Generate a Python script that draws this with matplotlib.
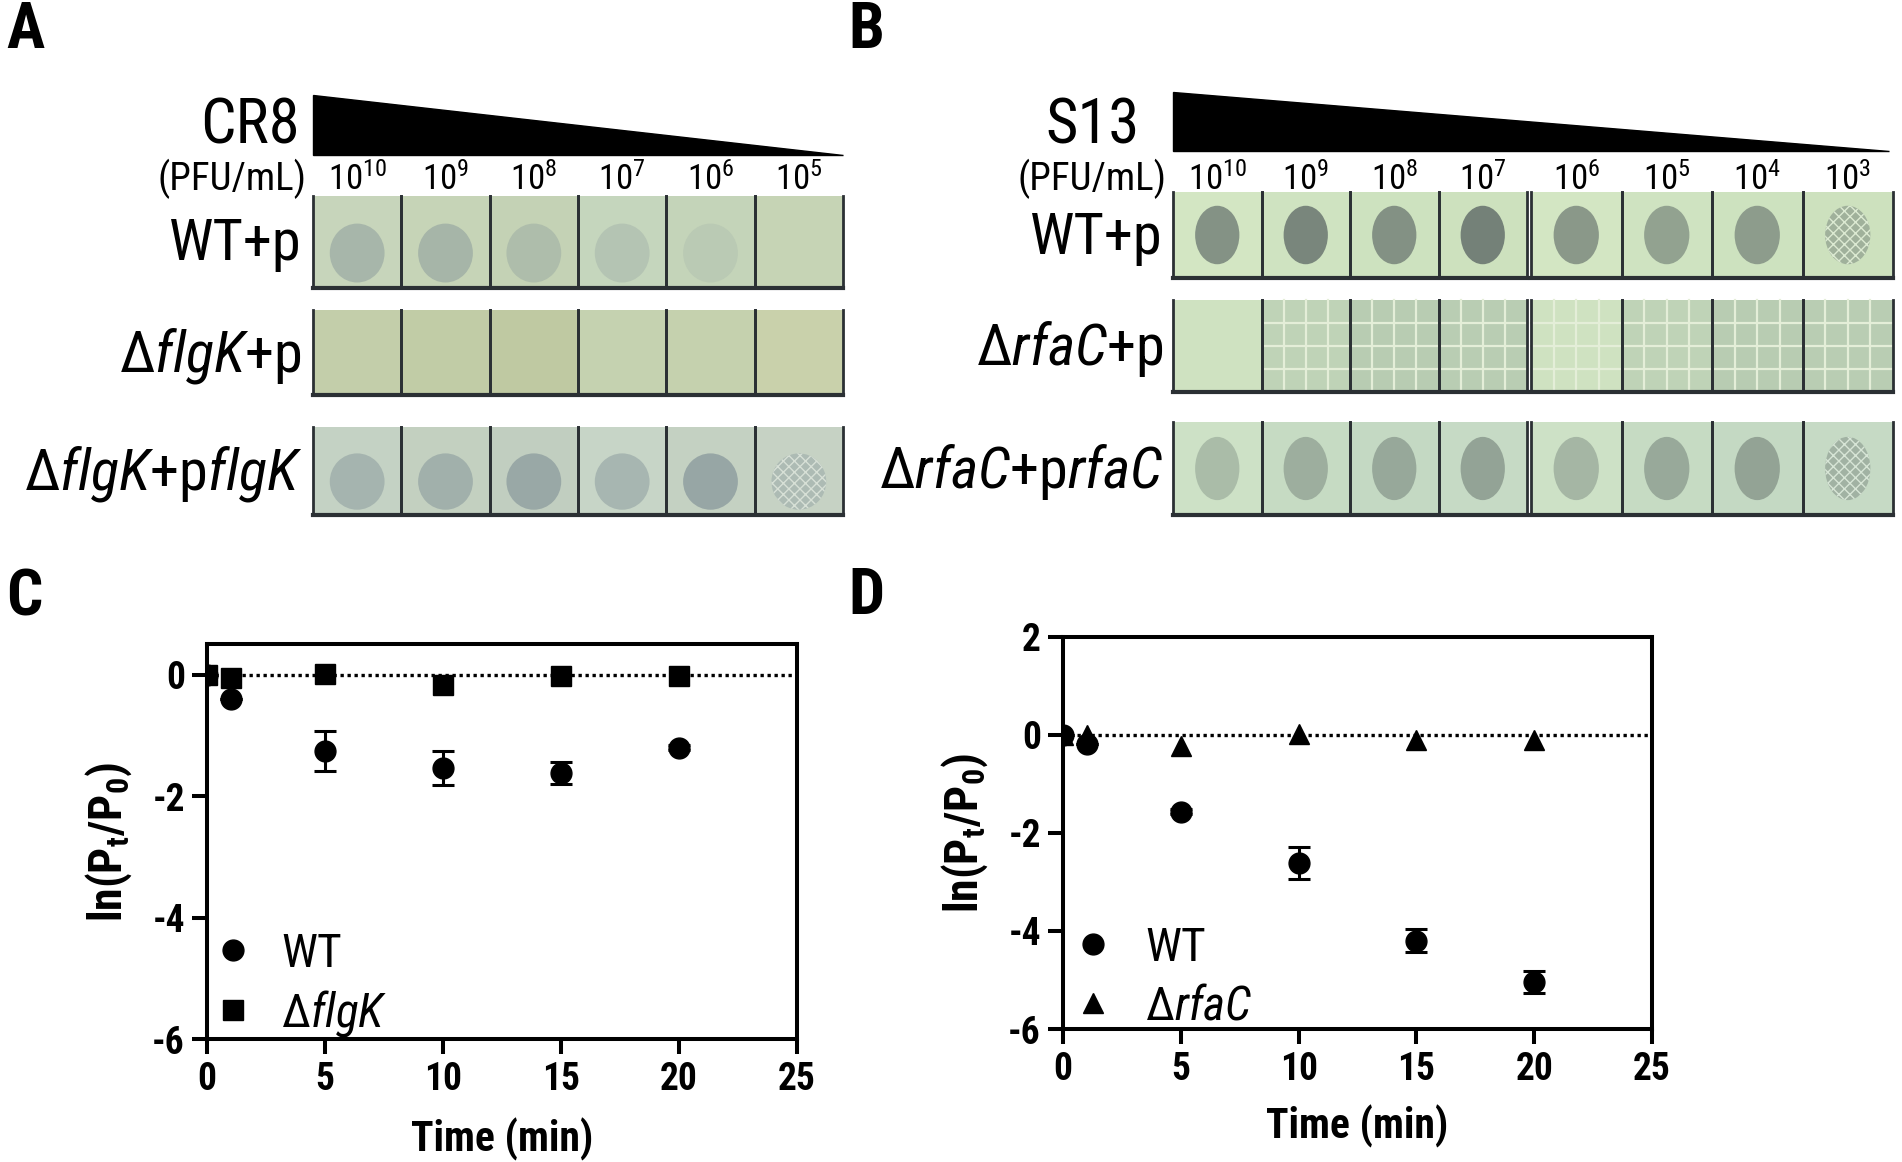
import numpy as np
import matplotlib
matplotlib.use("Agg")
import matplotlib.pyplot as plt
from matplotlib import font_manager
from matplotlib.patches import Rectangle, Ellipse, Polygon
from matplotlib.lines import Line2D

avail = {f.name for f in font_manager.fontManager.ttflist}
FONT = next(f for f in ["Liberation Sans Narrow", "Arial Narrow", "Roboto Condensed",
                        "Archivo Narrow", "Liberation Sans", "DejaVu Sans"] if f in avail)
plt.rcParams["font.family"] = [FONT, "DejaVu Sans"]
plt.rcParams["mathtext.fontset"] = "custom"
plt.rcParams["mathtext.rm"] = FONT
plt.rcParams["mathtext.it"] = FONT + ":italic"
plt.rcParams["mathtext.bf"] = FONT + ":bold"
plt.rcParams["axes.unicode_minus"] = False
plt.rcParams["hatch.linewidth"] = 1.0

# ---------------- data ----------------
time_min = [0, 1, 5, 10, 15, 20]
c_wt = [0.0, -0.39, -1.25, -1.53, -1.61, -1.20]
c_wt_err = [0.0, 0.0, 0.33, 0.28, 0.18, 0.04]
c_flgk = [0.0, -0.05, 0.01, -0.17, -0.01, -0.02]
d_wt = [0.0, -0.20, -1.57, -2.62, -4.20, -5.04]
d_wt_err = [0.0, 0.0, 0.05, 0.33, 0.235, 0.22]
d_rfac = [0.0, -0.01, -0.24, 0.02, -0.11, -0.10]

cr8_exponents = [10, 9, 8, 7, 6, 5]
s13_exponents = [10, 9, 8, 7, 6, 5, 4, 3]
rows_a = [r"WT+p", r"$\Delta\mathit{flgK}$+p", r"$\Delta\mathit{flgK}$+p$\mathit{flgK}$"]
rows_b = [r"WT+p", r"$\Delta\mathit{rfaC}$+p", r"$\Delta\mathit{rfaC}$+p$\mathit{rfaC}$"]
# plaque darkness per spot (0 = no lysis)
plaque_a = [[0.45, 0.45, 0.32, 0.25, 0.15, 0.0],
            [0.0, 0.0, 0.0, 0.0, 0.0, 0.0],
            [0.45, 0.5, 0.6, 0.45, 0.65, 0.35]]
plaque_b = [[0.75, 0.85, 0.75, 0.9, 0.7, 0.6, 0.65, 0.45],
            [0.0, 0.0, 0.0, 0.0, 0.0, 0.0, 0.0, 0.0],
            [0.35, 0.45, 0.5, 0.55, 0.4, 0.5, 0.55, 0.4]]
turbid_a = [False, False, False, False, False, True]
turbid_b = [False, False, False, False, False, False, False, True]

# ---------------- figure ----------------
W, H = 1902, 1162
fig = plt.figure(figsize=(W / 100, H / 100), dpi=100)
bgax = fig.add_axes([0, 0, 1, 1])
bgax.set_xlim(0, W)
bgax.set_ylim(H, 0)
bgax.axis("off")


def mix(c1, c2, t):
    a = np.array(matplotlib.colors.to_rgb(c1))
    b = np.array(matplotlib.colors.to_rgb(c2))
    return tuple(a + (b - a) * t)


def plate_row(ax, edges, y0, y1, bg, dark, levels, turbid, pos, size, grid_cells=()):
    h = y1 - y0
    for i in range(len(edges)):
        xa, xb = edges[i]
        w = xb - xa
        ax.add_patch(Rectangle((xa, y0), w, h, fc=bg[i % len(bg)], ec="none", zorder=1))
        if i in grid_cells:
            for k in range(1, 4):
                ax.plot([xa + w * k / 4] * 2, [y0, y1], color="#e4eed8", lw=1.6, zorder=1.5)
                ax.plot([xa, xb], [y0 + h * k / 4] * 2, color="#e4eed8", lw=1.6, zorder=1.5)
        lv = levels[i]
        if lv > 0:
            c = mix(bg[i % len(bg)], dark, lv)
            e = Ellipse((xa + w * pos[0], y0 + h * pos[1]), w * size[0], h * size[1],
                        fc=c, ec="none", zorder=2)
            ax.add_patch(e)
            if turbid[i]:
                e2 = Ellipse((xa + w * pos[0], y0 + h * pos[1]), w * size[0], h * size[1],
                             fc="none", ec=mix(bg[i % len(bg)], "#ffffff", 0.3), lw=0,
                             hatch="xxx", zorder=2.5)
                ax.add_patch(e2)
        ax.plot([xa, xa], [y0, y1], color="#2b3034", lw=2.0, zorder=3)
        ax.plot([xb, xb], [y0, y1], color="#2b3034", lw=2.0, zorder=3)
    ax.plot([edges[0][0], edges[-1][1]], [y1, y1], color="#2b3034", lw=3, zorder=3)


def col_edges(x0, x1, n):
    xs = np.linspace(x0, x1, n + 1)
    return [(xs[i], xs[i + 1]) for i in range(n)]


LETTER = dict(fontsize=46, fontweight="bold", va="center", ha="left")

# ---- Panel A ----
bgax.text(6, 30, "A", **LETTER)
bgax.add_patch(Polygon([(313, 95), (313, 155), (843, 155)], closed=True, fc="black", ec="black", zorder=2))
bgax.text(300, 127, "CR8", fontsize=45, ha="right", va="center")
bgax.text(306, 179, "(PFU/mL)", fontsize=28, ha="right", va="center")
ea = col_edges(313, 843, len(cr8_exponents))
for (xa, xb), ex in zip(ea, cr8_exponents):
    bgax.text((xa + xb) / 2, 180, r"10$^{%d}$" % ex, fontsize=25, ha="center", va="center")
rows_y_a = [(196, 288), (310, 395), (427, 515)]
bgs_a = [["#c7d5bb", "#c6d4b7", "#c4d2b5", "#c5d6bd", "#c4d4b9", "#c6d4b5"],
         ["#c3ceaa", "#c1cca6", "#bfc9a2", "#c5d2b0", "#c5d1ae", "#c9d1ab"],
         ["#c4d2c4", "#c3d0c0", "#c1cec0", "#c7d5c7", "#c4d1c2", "#c6d2c4"]]
for r in range(3):
    y0, y1 = rows_y_a[r]
    plate_row(bgax, ea, y0, y1, bgs_a[r], "#7f8f95", plaque_a[r],
              turbid_a if r == 2 else [False] * 6, (0.5, 0.62), (0.62, 0.64))
    bgax.text(302, (y0 + y1) / 2 + 3, rows_a[r], fontsize=42, ha="right", va="center")

# ---- Panel B ----
bgax.text(848, 30, "B", **LETTER)
bgax.add_patch(Polygon([(1173, 92), (1173, 151), (1889, 151)], closed=True, fc="black", ec="black", zorder=2))
bgax.text(1140, 127, "S13", fontsize=45, ha="right", va="center")
bgax.text(1166, 179, "(PFU/mL)", fontsize=28, ha="right", va="center")
eb = col_edges(1173, 1527, 4) + col_edges(1531, 1893, 4)
for (xa, xb), ex in zip(eb, s13_exponents):
    bgax.text((xa + xb) / 2, 180, r"10$^{%d}$" % ex, fontsize=25, ha="center", va="center")
rows_y_b = [(192, 278), (300, 392), (422, 515)]
bgs_b = [["#d3e6c3", "#cfe3c1", "#cde2bf", "#cde1be"],
         ["#cfe2c1", "#bfd3b7", "#b8ccb2", "#b9cdb3"],
         ["#cde1c6", "#c6dbc3", "#c4d9c3", "#c6dac5"]]
for r in range(3):
    y0, y1 = rows_y_b[r]
    plate_row(bgax, eb[:4], y0, y1, bgs_b[r], "#6a7670", plaque_b[r][:4],
              turbid_b[:4], (0.5, 0.5), (0.5, 0.68),
              grid_cells=(1, 2, 3) if r == 1 else ())
    plate_row(bgax, eb[4:], y0, y1, bgs_b[r], "#6a7670", plaque_b[r][4:],
              turbid_b[4:], (0.5, 0.5), (0.5, 0.68),
              grid_cells=(0, 1, 2, 3) if r == 1 else ())
    bgax.text(1163, (y0 + y1) / 2 + 3, rows_b[r], fontsize=42, ha="right", va="center")

# ---- Panel C / D ----
bgax.text(6, 598, "C", **LETTER)
bgax.text(848, 596, "D", **LETTER)


def style_axes(ax, yticks, xlabelpad):
    for s in ax.spines.values():
        s.set_linewidth(2.9)
    ax.tick_params(width=2.9, length=11, labelsize=27, pad=5)
    ax.set_xlim(0, 25)
    ax.set_xticks([0, 5, 10, 15, 20, 25])
    ax.set_yticks(yticks)
    for lab in ax.get_xticklabels() + ax.get_yticklabels():
        lab.set_fontweight("bold")
    ax.set_xlabel("Time (min)", fontsize=30, fontweight="bold", labelpad=xlabelpad)
    ax.set_ylabel(r"$\mathbf{ln(P_t/P_0)}$", fontsize=33, labelpad=13)
    ax.axhline(0, color="black", ls=(0, (1, 1.1)), lw=2.4, zorder=1)
    ax.patch.set_alpha(0)


axc = fig.add_axes([207 / W, 1 - 1039 / H, 590 / W, 395 / H])
axc.errorbar(time_min, c_wt, yerr=c_wt_err, fmt="o", color="black", ms=15,
             capsize=8, elinewidth=2.2, capthick=2.2, zorder=3)
axc.plot(time_min, c_flgk, "s", color="black", ms=14, zorder=4)
axc.set_ylim(-6, 0.51)
style_axes(axc, [0, -2, -4, -6], 14)
hc = [Line2D([], [], marker="o", ls="", color="black", ms=15),
      Line2D([], [], marker="s", ls="", color="black", ms=14)]
axc.legend(hc, ["WT", r"$\Delta\mathit{flgK}$"], loc="lower left", frameon=False, fontsize=34,
           handlelength=0.8, handletextpad=0.62, labelspacing=0.25, borderpad=0.2,
           borderaxespad=0.0, bbox_to_anchor=(-0.004, -0.023))

axd = fig.add_axes([1063 / W, 1 - 1029 / H, 589 / W, 392.5 / H])
axd.plot(time_min, d_rfac, "^", color="black", ms=15, zorder=3)
axd.errorbar(time_min, d_wt, yerr=d_wt_err, fmt="o", color="black", ms=15,
             capsize=8, elinewidth=2.2, capthick=2.2, zorder=4)
axd.set_ylim(-6, 2)
style_axes(axd, [2, 0, -2, -4, -6], 12)
hd = [Line2D([], [], marker="o", ls="", color="black", ms=15),
      Line2D([], [], marker="^", ls="", color="black", ms=15)]
axd.legend(hd, ["WT", r"$\Delta\mathit{rfaC}$"], loc="lower left", frameon=False, fontsize=34,
           handlelength=0.8, handletextpad=0.7, labelspacing=0.32, borderpad=0.2,
           borderaxespad=0.0, bbox_to_anchor=(0.003, -0.024))

fig.savefig("out.png", dpi=100)
